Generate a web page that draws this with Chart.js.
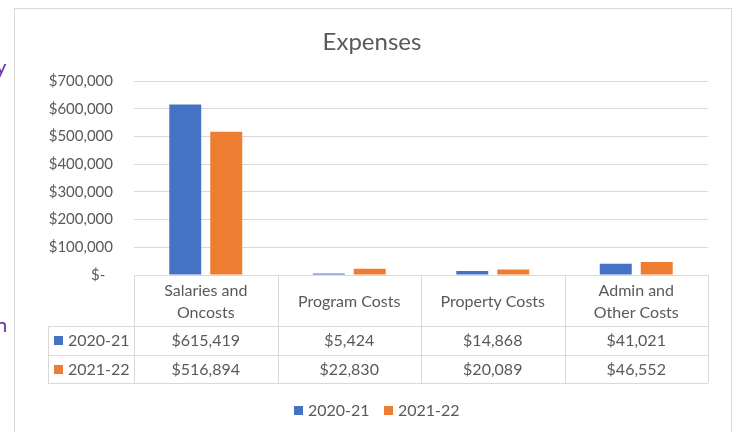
<!DOCTYPE html>
<html>
<head>
<meta charset="utf-8">
<script src="https://cdn.jsdelivr.net/npm/chart.js@4"></script>
<style>
  html, body { margin: 0; padding: 0; background: #fff; overflow: hidden; }
  #wrap { position: relative; width: 747px; height: 432px; }
  #frame { position: absolute; left: 14px; top: 8px; width: 718px; height: 440px; border: 1px solid #d9d9d9; box-sizing: border-box; }
  #c { position: absolute; left: 0; top: 0; }
  .bg { position: absolute; color: #7030a0; font-family: Lato, sans-serif; font-size: 20px; }
</style>
</head>
<body>
<div id="wrap">
  <span class="bg" style="left:-4px; top:54px;">y</span>
  <span class="bg" style="left:-4px; top:312px;">n</span>
  <div id="frame"></div>
  <canvas id="c" width="747" height="432"></canvas>
</div>
<script>
const chartTitle = 'Expenses';
const categories = [['Salaries and', 'Oncosts'], ['Program Costs'], ['Property Costs'], ['Admin and', 'Other Costs']];
const seriesNames = ['2020-21', '2021-22'];
const values2020 = [615419, 5424, 14868, 41021];
const values2021 = [516894, 22830, 20089, 46552];
const yTicks = [0, 100000, 200000, 300000, 400000, 500000, 600000, 700000];
const colors = ['#4472c4', '#ed7d31'];

const FONT = 'Lato, "Open Sans", sans-serif';
const TEXT = '#595959';
const LINE = '#d9d9d9';

function money(v) {
  if (v === 0) return '$-  ';
  return '$' + v.toLocaleString('en-US');
}

const tablePlugin = {
  id: 'tablePlugin',
  afterDraw(chart) {
    const ctx = chart.ctx;
    const xs = chart.scales.x;
    const ca = chart.chartArea;
    const n = categories.length;
    const colW = (ca.right - ca.left) / n;
    const top = ca.bottom;
    const hdrBottom = top + 51;
    const r1Bottom = hdrBottom + 28.5;
    const r2Bottom = r1Bottom + 28.5;
    const leftX = 48;
    ctx.save();
    ctx.strokeStyle = LINE;
    ctx.lineWidth = 1;
    const hline = (x1, x2, y) => { ctx.beginPath(); ctx.moveTo(x1, Math.round(y) + 0.5); ctx.lineTo(x2, Math.round(y) + 0.5); ctx.stroke(); };
    const vline = (x, y1, y2) => { ctx.beginPath(); ctx.moveTo(Math.round(x) + 0.5, y1); ctx.lineTo(Math.round(x) + 0.5, y2); ctx.stroke(); };
    hline(ca.left, ca.right, top);
    hline(leftX, ca.right, hdrBottom);
    hline(leftX, ca.right, r1Bottom);
    hline(leftX, ca.right, r2Bottom);
    for (let i = 0; i <= n; i++) vline(ca.left + i * colW, top, r2Bottom);
    vline(leftX, hdrBottom, r2Bottom);

    ctx.fillStyle = TEXT;
    ctx.font = '16px ' + FONT;
    ctx.textAlign = 'center';
    ctx.textBaseline = 'middle';
    categories.forEach((lines, i) => {
      const cx = xs.getPixelForValue(i);
      const midY = (top + hdrBottom) / 2 + 1;
      const lh = 22;
      lines.forEach((t, k) => {
        ctx.fillText(t, cx, midY + (k - (lines.length - 1) / 2) * lh);
      });
    });
    const rows = [values2020, values2021];
    const rowMid = [(hdrBottom + r1Bottom) / 2 + 1, (r1Bottom + r2Bottom) / 2 + 1];
    rows.forEach((vals, r) => {
      vals.forEach((v, i) => {
        ctx.textAlign = 'center';
        ctx.fillStyle = TEXT;
        ctx.fillText(money(v), xs.getPixelForValue(i), rowMid[r]);
      });
      ctx.fillStyle = colors[r];
      ctx.fillRect(54, Math.round(rowMid[r]) - 5, 9, 9);
      ctx.fillStyle = TEXT;
      ctx.textAlign = 'left';
      ctx.fillText(seriesNames[r], 68, rowMid[r]);
    });

    // bottom legend
    const ly = 410;
    ctx.textAlign = 'left';
    let lx = 294;
    seriesNames.forEach((name, r) => {
      ctx.fillStyle = colors[r];
      ctx.fillRect(lx, ly - 4, 9, 9);
      ctx.fillStyle = TEXT;
      ctx.fillText(name, lx + 14, ly + 1);
      lx += 90;
    });

    // title
    ctx.font = '24px ' + FONT;
    ctx.textAlign = 'center';
    ctx.fillStyle = TEXT;
    ctx.fillText(chartTitle, 372, 42);
    ctx.restore();
  }
};

new Chart(document.getElementById('c'), {
  type: 'bar',
  data: {
    labels: categories,
    datasets: [
      { label: seriesNames[0], data: values2020, backgroundColor: colors[0], categoryPercentage: 0.571, barPercentage: 0.78 },
      { label: seriesNames[1], data: values2021, backgroundColor: colors[1], categoryPercentage: 0.571, barPercentage: 0.78 }
    ]
  },
  options: {
    responsive: false,
    animation: false,
    layout: { padding: { left: 0, top: 81, right: 39, bottom: 157 } },
    plugins: { legend: { display: false }, title: { display: false }, tooltip: { enabled: false } },
    scales: {
      x: { display: false },
      y: {
        min: 0, max: 700000,
        afterBuildTicks(scale) { scale.ticks = yTicks.map(v => ({ value: v })); },
        afterFit(scale) { scale.width = 134; },
        border: { display: false },
        grid: { color: LINE, drawTicks: false },
        ticks: { padding: 21, color: TEXT, font: { family: FONT, size: 15 }, callback: (v) => money(v) }
      }
    }
  },
  plugins: [tablePlugin]
});
</script>
</body>
</html>
